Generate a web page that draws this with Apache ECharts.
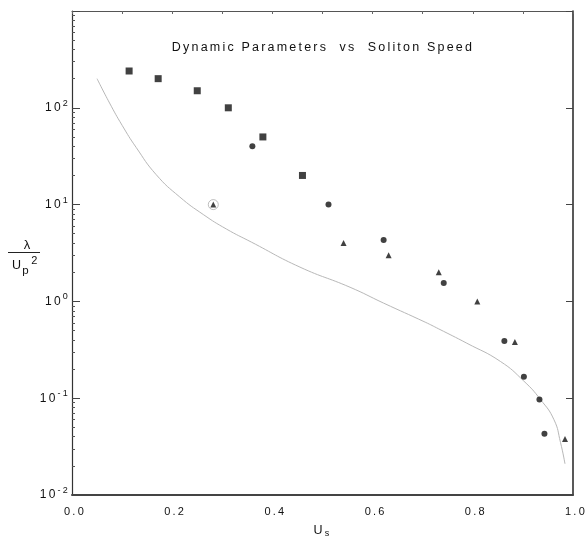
<!DOCTYPE html>
<html><head><meta charset="utf-8">
<script src="https://cdn.jsdelivr.net/npm/echarts@6/dist/echarts.min.js"></script>
<style>
html,body{margin:0;padding:0;background:#fff;}
#c{width:585px;height:536px;}
</style></head><body><div id="c"></div>
<script>
// ---- data ----
const squareX = [0.114, 0.172, 0.250, 0.312, 0.381, 0.460];
const squareY = [240, 200, 150, 100, 50, 20];
const circleX = [0.360, 0.512, 0.622, 0.742, 0.863, 0.902, 0.933, 0.943];
const circleY = [40, 10, 4.3, 1.55, 0.39, 0.167, 0.097, 0.043];
const triangleX = [0.282, 0.542, 0.632, 0.732, 0.809, 0.884, 0.984];
const triangleY = [10, 4, 3, 2, 1, 0.38, 0.038];
const circledX = [0.282];
const circledY = [10];
const curveX = [0.05, 0.075, 0.10, 0.128, 0.168, 0.215, 0.262, 0.308, 0.358, 0.455, 0.555, 0.622, 0.705, 0.732, 0.788, 0.855, 0.902, 0.935, 0.962, 0.975, 0.984];
const curveY = [200, 112, 66, 39, 20.4, 12, 7.9, 5.6, 4.1, 2.26, 1.40, 0.96, 0.61, 0.52, 0.37, 0.24, 0.15, 0.097, 0.060, 0.035, 0.021];
const xTickLabels = ['0.0', '0.2', '0.4', '0.6', '0.8', '1.0'];
const yDecades = [0.01, 0.1, 1, 10, 100, 1000];
const titleText = 'Dynamic Parameters  vs  Soliton Speed';

// typewriter-like letter spacing of the reference's lettering
(function () {
  const LS = '2.2px';
  const P = CanvasRenderingContext2D.prototype;
  const mt = P.measureText, ft = P.fillText;
  P.measureText = function (t) { this.letterSpacing = LS; return mt.call(this, t); };
  P.fillText = function () { this.letterSpacing = LS; return ft.apply(this, arguments); };
})();

const zip = (xs, ys) => xs.map((x, i) => [x, ys[i]]);
const minorVals = [];
yDecades.slice(0, -1).forEach(d => { for (let k = 2; k <= 9; k++) minorVals.push(+(d * k).toPrecision(3)); });

const FF = 'Liberation Sans, Arial, sans-serif';
const chart = echarts.init(document.getElementById('c'));

const logAxisBase = { type: 'log', logBase: 10, min: 0.01, max: 1000, splitLine: { show: false } };

chart.setOption({
  animation: false,
  backgroundColor: '#fff',
  grid: { left: 72, right: 12, top: 11, bottom: 41, outerBoundsMode: 'none', containLabel: false },
  xAxis: [
    {
      type: 'value', min: 0, max: 1, interval: 0.2, position: 'bottom',
      axisLine: { show: true, onZero: false, lineStyle: { color: '#444', width: 2 } },
      axisTick: { show: false },
      splitLine: { show: false },
      axisLabel: {
        margin: 10, color: '#111', fontSize: 11, fontFamily: FF, padding: [0, 0, 0, 6],
        formatter: v => xTickLabels[Math.round(v / 0.2)]
      },
      name: '{u|U}{s|s}', nameLocation: 'middle', nameGap: 28,
      nameTextStyle: {
        color: '#111', fontFamily: FF,
        rich: {
          u: { fontSize: 12.5, lineHeight: 16, verticalAlign: 'middle', fontFamily: FF, color: '#111' },
          s: { fontSize: 9, lineHeight: 9, verticalAlign: 'bottom', fontFamily: FF, color: '#111' }
        }
      }
    },
    {
      type: 'value', min: 0, max: 1, interval: 0.1, position: 'top',
      axisLine: { show: true, onZero: false, lineStyle: { color: '#555', width: 1 } },
      axisTick: { show: true, inside: true, length: 3, lineStyle: { color: '#666' } },
      axisLabel: { show: false },
      splitLine: { show: false }
    }
  ],
  yAxis: [
    Object.assign({}, logAxisBase, {
      position: 'left',
      axisLine: { show: true, onZero: false, lineStyle: { color: '#333', width: 1.2 } },
      axisTick: { show: true, inside: true, length: 8, lineStyle: { color: '#444' } },
      axisLabel: {
        margin: 2, color: '#111', fontFamily: FF,
        formatter: v => {
          const e = Math.round(Math.log10(v));
          if (e > 2) return '';
          return '{b|10}{s|' + (e < 0 ? '-' + (-e) : '' + e) + '}';
        },
        rich: {
          b: { fontSize: 12, lineHeight: 20, verticalAlign: 'middle', fontFamily: FF, color: '#111' },
          s: { fontSize: 9, lineHeight: 10, verticalAlign: 'top', fontFamily: FF, color: '#111' }
        }
      }
    }),
    Object.assign({}, logAxisBase, {
      position: 'left',
      axisLine: { show: false },
      axisTick: { show: true, inside: true, length: 3, customValues: minorVals, lineStyle: { color: '#555' } },
      axisLabel: { show: false }
    }),
    Object.assign({}, logAxisBase, {
      position: 'right',
      axisLine: { show: true, onZero: false, lineStyle: { color: '#222', width: 1.5 } },
      axisTick: { show: true, inside: true, length: 7, lineStyle: { color: '#444' } },
      axisLabel: { show: false }
    })
  ],
  graphic: [
    { type: 'text', x: 323, y: 48, style: { text: titleText, fontSize: 12.5, fontFamily: FF, fill: '#111', textAlign: 'center', textVerticalAlign: 'middle' } },
    { type: 'text', x: 28, y: 245, style: { text: 'λ', fontSize: 13, fontFamily: FF, fill: '#111', textAlign: 'center', textVerticalAlign: 'middle' } },
    { type: 'line', shape: { x1: 8, y1: 252.5, x2: 40, y2: 252.5 }, style: { stroke: '#222', lineWidth: 1 } },
    { type: 'text', x: 17.5, y: 266, style: { text: 'U', fontSize: 12.5, fontFamily: FF, fill: '#111', textAlign: 'center', textVerticalAlign: 'middle' } },
    { type: 'text', x: 26.5, y: 271, style: { text: 'p', fontSize: 11.5, fontFamily: FF, fill: '#111', textAlign: 'center', textVerticalAlign: 'middle' } },
    { type: 'text', x: 35.5, y: 261, style: { text: '2', fontSize: 11, fontFamily: FF, fill: '#111', textAlign: 'center', textVerticalAlign: 'middle' } }
  ],
  series: [
    { type: 'line', data: zip(curveX, curveY), showSymbol: false, symbol: 'none', smooth: 0.5,
      lineStyle: { color: '#b8b8b8', width: 1 }, z: 1, silent: true },
    { type: 'scatter', data: zip(circledX, circledY), symbol: 'circle', symbolSize: 10,
      itemStyle: { color: 'rgba(0,0,0,0)', borderColor: '#999', borderWidth: 0.8 }, z: 2 },
    { type: 'scatter', data: zip(squareX, squareY), symbol: 'rect', symbolSize: 7, itemStyle: { color: '#111' }, z: 3 },
    { type: 'scatter', data: zip(circleX, circleY), symbol: 'circle', symbolSize: 6, itemStyle: { color: '#111' }, z: 3 },
    { type: 'scatter', data: zip(triangleX, triangleY), symbol: 'triangle', symbolSize: 6, itemStyle: { color: '#111' }, z: 3 }
  ]
});
</script></body></html>
